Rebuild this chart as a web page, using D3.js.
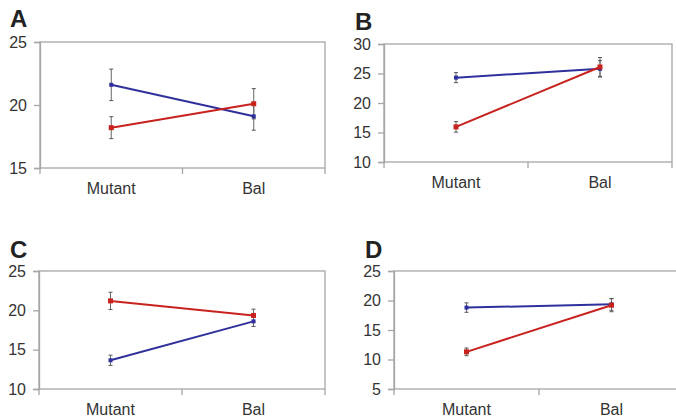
<!DOCTYPE html>
<html><head><meta charset="utf-8">
<script src="https://cdn.jsdelivr.net/npm/d3@7"></script>
<style>body{margin:0;background:#fff}svg{display:block;font-family:"Liberation Sans",Arial,sans-serif}</style>
</head><body>
<svg id="c" width="676" height="418"></svg>
<script>
const categories = ["Mutant", "Bal"];
const panelLabels = ["A", "B", "C", "D"];
const yDomains = [[15, 25], [10, 30], [10, 25], [5, 25]];
const yTicks = [[15, 20, 25], [10, 15, 20, 25, 30], [10, 15, 20, 25], [5, 10, 15, 20, 25]];
const blueValues = [[21.6, 19.1], [24.3, 25.8], [13.65, 18.6], [18.8, 19.35]];
const blueErrors = [[1.25, 1.1], [0.85, 1.4], [0.65, 0.65], [0.8, 1.0]];
const redValues = [[18.2, 20.1], [15.95, 26.1], [21.2, 19.35], [11.3, 19.2]];
const redErrors = [[0.87, 1.2], [0.9, 1.6], [1.1, 0.8], [0.65, 1.1]];

const frames = [
  {l: 40, r: 325, t: 42, b: 168, tx: 10, ty: 27},
  {l: 384, r: 672, t: 44, b: 162, tx: 355, ty: 30},
  {l: 39, r: 325, t: 271, b: 389, tx: 10, ty: 258},
  {l: 394, r: 684, t: 271, b: 389, tx: 365, ty: 258}
];
const BLUE = "#30309c", RED = "#c8221e", AX = "#a6a6a6", TXT = "#333";
const svg = d3.select("#c");

frames.forEach((f, i) => {
  const g = svg.append("g");
  const x = d3.scaleBand().domain(categories).range([f.l, f.r]);
  const y = d3.scaleLinear().domain(yDomains[i]).range([f.b, f.t]);
  const cx = c => x(c) + x.bandwidth() / 2;

  g.append("text").attr("x", f.tx).attr("y", f.ty).text(panelLabels[i])
    .attr("font-size", 24).attr("font-weight", "bold").attr("fill", "#222");

  // box
  g.append("rect").attr("x", f.l).attr("y", f.t).attr("width", f.r - f.l).attr("height", f.b - f.t)
    .attr("fill", "none").attr("stroke", AX).attr("stroke-width", 1.3);

  // y axis
  const ya = g.append("g").attr("transform", `translate(${f.l},0)`)
    .call(d3.axisLeft(y).tickValues(yTicks[i]).tickSize(6).tickPadding(7).tickFormat(d3.format("d")));
  ya.select(".domain").attr("stroke", AX).attr("stroke-width", 1.3);
  ya.selectAll(".tick line").attr("stroke", AX).attr("stroke-width", 1.3);
  ya.selectAll(".tick text").attr("font-size", 16).attr("fill", TXT).attr("font-family", "Liberation Sans, Arial, sans-serif");

  // x axis ticks at band boundaries
  const xb = [f.l, (f.l + f.r) / 2, f.r];
  g.selectAll(".xt").data(xb).join("line").attr("x1", d => d).attr("x2", d => d)
    .attr("y1", f.b).attr("y2", f.b + 6).attr("stroke", AX).attr("stroke-width", 1.3);
  g.selectAll(".xl").data(categories).join("text").attr("x", d => cx(d)).attr("y", f.b + 26)
    .attr("text-anchor", "middle").attr("font-size", 16).attr("fill", TXT).text(d => d);

  const series = [
    {v: blueValues[i], e: blueErrors[i], c: BLUE, m: 4},
    {v: redValues[i], e: redErrors[i], c: RED, m: 5}
  ];
  // error bars
  series.forEach(s => {
    categories.forEach((c, j) => {
      const X = cx(c), y1 = y(s.v[j] + s.e[j]), y0 = y(s.v[j] - s.e[j]);
      g.append("line").attr("x1", X).attr("x2", X).attr("y1", y1).attr("y2", y0).attr("stroke", "#666").attr("stroke-width", 1);
      [y1, y0].forEach(yy => g.append("line").attr("x1", X - 2).attr("x2", X + 2).attr("y1", yy).attr("y2", yy).attr("stroke", "#555").attr("stroke-width", 1));
    });
  });
  // lines
  series.forEach(s => {
    const line = d3.line().x((d, j) => cx(categories[j])).y(d => y(d));
    g.append("path").attr("d", line(s.v)).attr("fill", "none").attr("stroke", s.c).attr("stroke-width", 2);
    g.selectAll(null).data(s.v).join("rect")
      .attr("x", (d, j) => cx(categories[j]) - s.m / 2).attr("y", d => y(d) - s.m / 2)
      .attr("width", s.m).attr("height", s.m).attr("fill", s.c);
  });
});
</script>
</body></html>
